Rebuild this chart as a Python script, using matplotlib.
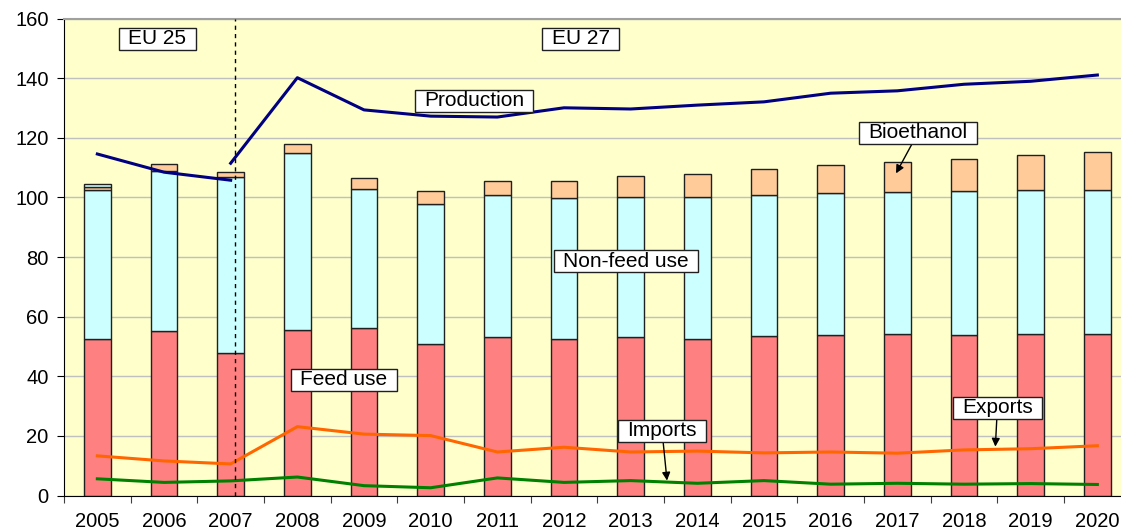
import numpy as np
import matplotlib
matplotlib.use('Agg')
import matplotlib.pyplot as plt
from matplotlib.path import Path

plt.rcParams['font.family'] = ['Liberation Sans', 'DejaVu Sans']

years = ['2005', '2006', '2007', '2008', '2009', '2010', '2011', '2012',
         '2013', '2014', '2015', '2016', '2017', '2018', '2019', '2020']

# stacked uses (top of each segment, converted to heights below)
feed_use = [52.5, 55.2, 47.9, 55.6, 56.1, 50.7, 53.1, 52.4,
            53.1, 52.4, 53.5, 53.8, 54.1, 53.9, 54.3, 54.3]
nonfeed_top = [102.6, 109.0, 106.8, 114.8, 102.9, 97.8, 100.7, 99.8,
               100.3, 100.1, 100.9, 101.4, 101.8, 102.1, 102.5, 102.5]
bioeth_top = [103.4, 111.1, 108.6, 117.9, 106.6, 102.1, 105.5, 105.5,
              107.3, 108.0, 109.5, 111.0, 112.0, 113.0, 114.2, 115.2]
other_top = [104.4] + [np.nan] * 15   # small extra slice on 2005 bar

# lines
prod_eu25 = [114.6, 108.5, 105.8]                    # 2005-2007
prod_eu27 = [111.5, 140.2, 129.4, 127.3, 127.0, 130.1, 129.7,
             131.0, 132.1, 135.0, 135.8, 138.0, 139.0, 141.1]  # 2007-2020
exports = [13.3, 11.6, 10.6, 23.1, 20.6, 20.1, 14.6, 16.2,
           14.6, 14.9, 14.3, 14.6, 14.2, 15.3, 15.7, 16.7]
imports = [5.6, 4.4, 4.9, 6.2, 3.3, 2.6, 5.9, 4.4,
           5.0, 4.1, 5.0, 3.8, 4.1, 3.8, 4.0, 3.7]

x = np.arange(len(years))
feed = np.array(feed_use)
nonfeed = np.array(nonfeed_top) - feed
bioeth = np.array(bioeth_top) - np.array(nonfeed_top)
other = np.nan_to_num(np.array(other_top) - np.array(bioeth_top))


def wide_box(x0, y0, width, height, mutation_size):
    # label box: wider padding left/right than top/bottom, like the Excel text boxes
    px = 0.45 * mutation_size
    py = 0.07 * mutation_size
    x0, y0 = x0 - px, y0 - py
    x1, y1 = x0 + width + 2 * px, y0 + height + 2 * py
    return Path([(x0, y0), (x1, y0), (x1, y1), (x0, y1), (x0, y0)],
                closed=True)


fig = plt.figure(figsize=(11.21, 5.30), dpi=100)
ax = fig.add_axes([64 / 1121, 34.5 / 530, 1066.7 / 1121, 476.8 / 530])
ax.set_facecolor('#FFFFCC')

bw = 0.4
ec = '#202020'
ax.bar(x, feed, bw, color='#FF8080', edgecolor=ec, linewidth=1, zorder=2)
ax.bar(x, nonfeed, bw, bottom=feed, color='#CCFFFF', edgecolor=ec, linewidth=1, zorder=2)
ax.bar(x, bioeth, bw, bottom=nonfeed_top, color='#FFCC99', edgecolor=ec, linewidth=1, zorder=2)
ax.bar(x[other > 0], other[other > 0], bw, bottom=np.array(bioeth_top)[other > 0],
       color='#CCFFFF', edgecolor=ec, linewidth=1, zorder=2)

ax.plot(x[:3], prod_eu25, color='#000080', lw=2.2, zorder=3)
ax.plot(x[2:], prod_eu27, color='#000080', lw=2.2, zorder=3)
ax.plot(x, exports, color='#FF6600', lw=2.2, zorder=3)
ax.plot(x, imports, color='#008000', lw=2.2, zorder=3)

ax.axvline(2.07, color='black', ls=(0, (3, 3)), lw=1, zorder=4)

ax.set_xlim(-0.5, 15.5)
ax.set_ylim(0, 160)
ax.set_yticks(np.arange(0, 161, 20))
ax.yaxis.grid(True, color='#C0C0C0', lw=1, zorder=0)
ax.set_axisbelow(True)

ax.set_xticks(np.arange(-0.5, 16, 1))
ax.set_xticklabels([])
ax.set_xticks(x, minor=True)
ax.set_xticklabels(years, minor=True)
ax.tick_params(axis='x', which='major', length=5, direction='out', color='#404040')
ax.tick_params(axis='x', which='minor', length=0, pad=12, labelsize=14.5)
ax.tick_params(axis='y', length=5, direction='out', pad=6, labelsize=14.5)

for s in ['left', 'bottom']:
    ax.spines[s].set_color('black')
ax.spines['top'].set_color('#A0A0A0')
ax.spines['top'].set_linewidth(1.5)
ax.spines['right'].set_visible(False)

box = dict(boxstyle=wide_box, facecolor='white', edgecolor='#202020', lw=1)
fs = 15
ax.text(0.90, 153.3, 'EU 25', ha='center', va='center', fontsize=fs, bbox=box, zorder=5)
ax.text(7.25, 153.3, 'EU 27', ha='center', va='center', fontsize=fs, bbox=box, zorder=5)
ax.text(5.65, 132.4, 'Production', ha='center', va='center', fontsize=fs, bbox=box, zorder=5)
ax.text(7.93, 78.6, 'Non-feed use', ha='center', va='center', fontsize=fs, bbox=box, zorder=5)
ax.text(3.70, 38.9, 'Feed use', ha='center', va='center', fontsize=fs, bbox=box, zorder=5)

arrow = dict(arrowstyle='-|>', color='black', lw=1, mutation_scale=12, shrinkA=0, shrinkB=0)
ax.annotate('Bioethanol', xy=(11.98, 108.1), xytext=(12.31, 121.7), ha='center', va='center',
            fontsize=fs, bbox=box, arrowprops=arrow, zorder=5)
ax.annotate('Imports', xy=(8.545, 5.0), xytext=(8.47, 21.7), ha='center', va='center',
            fontsize=fs, bbox=box, arrowprops=arrow, zorder=5)
ax.annotate('Exports', xy=(13.47, 16.4), xytext=(13.5, 29.4), ha='center', va='center',
            fontsize=fs, bbox=box, arrowprops=arrow, zorder=5)

fig.savefig('out.png', dpi=100)
